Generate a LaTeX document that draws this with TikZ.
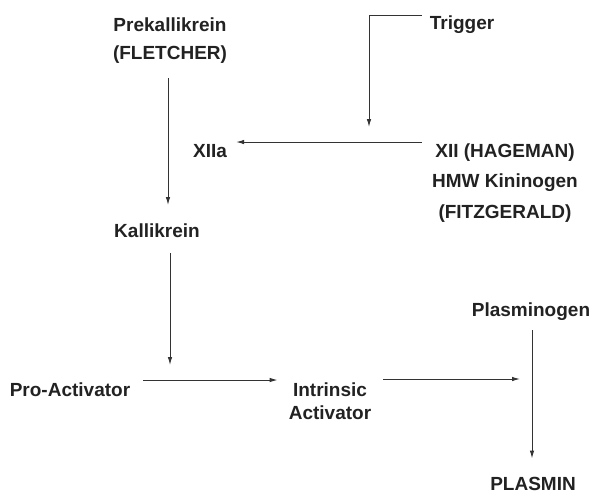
\documentclass[tikz,border=0pt]{standalone}
\usepackage{fontspec}
\setmainfont{Liberation Sans}
\usetikzlibrary{arrows.meta,calc}
\definecolor{ink}{HTML}{222222}
\definecolor{wire}{HTML}{333333}
\begin{document}
\begin{tikzpicture}[x=1pt,y=-1pt,
  lbl/.style={anchor=base,inner sep=0pt,align=center,text=ink,
    font=\bfseries\fontsize{19}{27.5}\selectfont},
  conn/.style={draw=wire,line width=1pt},
  arr/.style={conn,-{Latex[length=8pt,width=4.5pt]}}]
\useasboundingbox[fill=white] (0,0) rectangle (594,496);
% nodes (anchor base = baseline of the last line)
\node[lbl] (prek) at (170,59) {Prekallikrein\\(FLETCHER)};
\node[lbl] (trig) at (462,29) {Trigger};
\node[lbl] (xiia) at (210,157) {XIIa};
\node[lbl,font=\bfseries\fontsize{19}{30.5}\selectfont] (xii) at (505,218) {XII (HAGEMAN)\\HMW Kininogen\\(FITZGERALD)};
\node[lbl] (kall) at (157,237) {Kallikrein};
\node[lbl] (pro) at (70,396) {Pro-Activator};
\node[lbl,font=\bfseries\fontsize{19}{23}\selectfont] (intr) at (330,419) {Intrinsic\\Activator};
\node[lbl] (plg) at (531,316) {Plasminogen};
\node[lbl] (plm) at (533,490) {PLASMIN};
% helper coordinates
\coordinate (cx1) at (168,0);
\coordinate (ct) at (369,0);
\coordinate (ck) at (170,0);
\coordinate (cp) at (532,0);
\coordinate (ch1) at (0,380);
\coordinate (ch2) at (0,379);
\coordinate (ts) at ([xshift=-8pt,yshift=9pt]trig.west);
\coordinate (xs) at ([xshift=-10pt,yshift=1pt]xii.north west);
% connectors
\draw[arr,shorten <=15pt,shorten >=18pt] (prek.south -| cx1) -- (kall.north -| cx1);
\draw[arr,shorten >=16pt] (ts) -| (xii.north -| ct);
\draw[arr,shorten >=9pt] (xs) -- (xs -| xiia.east);
\draw[arr,shorten <=16pt,shorten >=17pt] (kall.south -| ck) -- (pro.north -| ck);
\draw[arr,shorten <=13pt,shorten >=11pt] (pro.east |- ch1) -- (intr.west |- ch1);
\draw[arr,shorten <=12pt,shorten >=13pt] (intr.east |- ch2) -- (plm.north |- ch2);
\draw[arr,shorten <=10pt,shorten >=18pt] (plg.south -| cp) -- (plm.north -| cp);
\end{tikzpicture}
\end{document}
